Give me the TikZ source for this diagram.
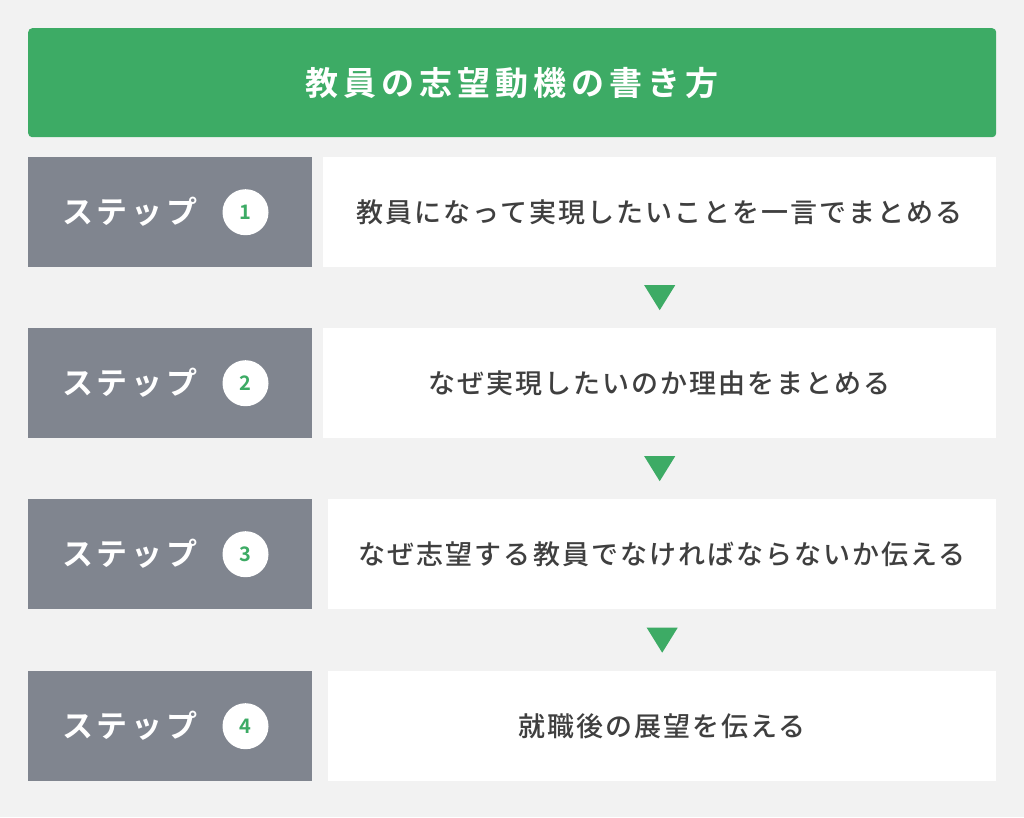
\documentclass[tikz,border=0pt]{standalone}
\usepackage{fontspec}
\usetikzlibrary{calc}
\setmainfont{Noto Sans CJK JP}
\newfontfamily\jpbody[LetterSpace=7.5]{Noto Sans CJK JP Medium}
\newfontfamily\jpbold[LetterSpace=12]{Noto Sans CJK JP Bold}
\newfontfamily\jptitle[LetterSpace=15]{Noto Sans CJK JP Bold}
\newfontfamily\numfont{Noto Sans CJK JP Bold}
\definecolor{bgc}{HTML}{F2F2F2}
\definecolor{grn}{HTML}{3DAB65}
\definecolor{gry}{HTML}{80858F}
\definecolor{txt}{HTML}{3F3F3F}
\tikzset{
  graybox/.style={fill=gry, draw=none, minimum width=284pt, minimum height=110pt, anchor=north west, inner sep=0pt},
  whitebox/.style={fill=white, draw=none, minimum height=110pt, anchor=north west, inner sep=0pt},
  steplabel/.style={text=white, font=\jpbold\fontsize{31pt}{31pt}\selectfont, inner sep=0pt},
  numcircle/.style={circle, fill=white, minimum size=46pt, inner sep=0pt, text=grn, font=\numfont\fontsize{20pt}{20pt}\selectfont},
  bodytext/.style={text=txt, font=\jpbody\fontsize{27pt}{27pt}\selectfont, inner sep=0pt},
  tri/.style={fill=grn, draw=none}
}
\begin{document}
\begin{tikzpicture}[x=1pt,y=-1pt]
\useasboundingbox[fill=bgc] (0,0) rectangle (1024,817);
% title
\node[fill=grn, rounded corners=4pt, minimum width=968pt, minimum height=109pt, anchor=north west, inner sep=0pt] (title) at (28,28) {};
\node[text=white, font=\jptitle\fontsize{33pt}{33pt}\selectfont, inner sep=0pt] (tt) at (title.center) {教員の志望動機の書き方};
% rows
\foreach \i/\top/\wx/\txt in {1/157/323/教員になって実現したいことを一言でまとめる,
                               2/328/323/なぜ実現したいのか理由をまとめる,
                               3/499/328/なぜ志望する教員でなければならないか伝える,
                               4/671/328/就職後の展望を伝える}{
  \node[graybox] (g\i) at (28,\top) {};
  \pgfmathsetmacro{\ww}{996-\wx}
  \node[whitebox, minimum width=\ww pt] (w\i) at (\wx,\top) {};
  \node[steplabel, anchor=west] (s\i) at ([xshift=34pt]g\i.west) {ステップ};
  \node[numcircle] (c\i) at ([xshift=217.5pt]g\i.west) {\i};
  \node[bodytext] (b\i) at (w\i.center) {\txt};
}
% down triangles between rows
\foreach \a/\b in {1/2,2/3,3/4}{
  \coordinate (m\a) at ($(w\a.south)!0.5!(w\b.north)$);
  \fill[tri] ([xshift=-15.5pt,yshift=12.5pt]m\a -| b\a) -- ([xshift=15.5pt,yshift=12.5pt]m\a -| b\a) -- ([yshift=-12.5pt]m\a -| b\a) -- cycle;
}
\end{tikzpicture}
\end{document}
